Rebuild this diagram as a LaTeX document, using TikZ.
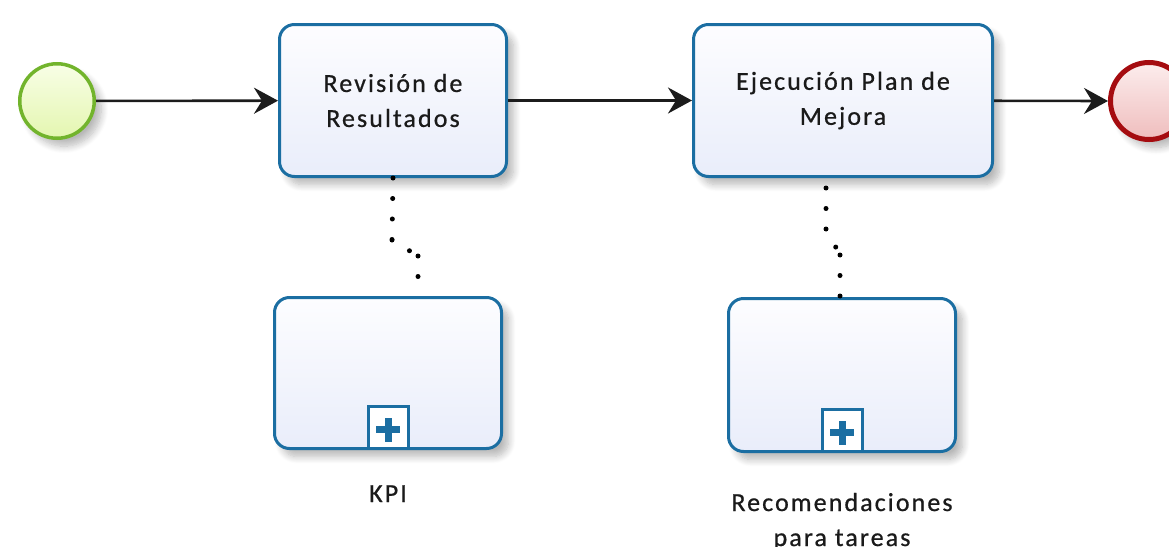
\documentclass[tikz,border=0pt]{standalone}
\usepackage{fontspec}
\setmainfont{Carlito}[LetterSpace=8, FakeBold=0.7]
\usetikzlibrary{arrows.meta,shadows.blur}

\definecolor{taskblue}{HTML}{1B6EA2}
\definecolor{taskfillA}{HTML}{FDFDFF}
\definecolor{taskfillB}{HTML}{E9EDFA}
\definecolor{startgreen}{HTML}{72B42C}
\definecolor{startfillA}{HTML}{F8FEE6}
\definecolor{startfillB}{HTML}{E4F6B0}
\definecolor{endred}{HTML}{A50C10}
\definecolor{endfillA}{HTML}{FCEDED}
\definecolor{endfillB}{HTML}{EFBDBD}
\definecolor{flowline}{HTML}{1C1C1C}
\definecolor{labeltext}{HTML}{1A1A1A}

\tikzset{
  softshadow/.style={blur shadow={shadow xshift=7pt, shadow yshift=-8pt,
      shadow blur radius=7pt, shadow blur steps=10, shadow opacity=28}},
  taskbox/.style={draw=taskblue, line width=3pt, rounded corners=15pt,
      top color=taskfillA, bottom color=taskfillB, softshadow,
      align=center, text=labeltext,
      font=\fontsize{26}{35}\selectfont, inner sep=0pt},
  subbox/.style={taskbox},
  submarker/.style={draw=taskblue, line width=3pt, fill=white,
      minimum width=40pt, minimum height=42pt, inner sep=0pt, anchor=south},
  startev/.style={circle, draw=startgreen, line width=3.5pt,
      top color=startfillA, bottom color=startfillB, softshadow,
      minimum size=74.5pt, inner sep=0pt},
  endev/.style={circle, draw=endred, line width=5pt,
      top color=endfillA, bottom color=endfillB, softshadow,
      minimum size=77pt, inner sep=0pt},
  seqflow/.style={draw=flowline, line width=2.6pt,
      -{Stealth[length=24pt, width=26pt, inset=8pt]}},
  assoc/.style={draw=black, line width=5pt, line cap=round,
      dash pattern=on 0pt off 20.5pt},
  caption/.style={text=labeltext, font=\fontsize{26}{35}\selectfont,
      align=center, anchor=base, inner sep=0pt},
}

\begin{document}
\begin{tikzpicture}[x=1pt, y=-1pt]
  \useasboundingbox (0,0) rectangle (1169,546);

  % events
  \node[startev] (start) at (57,101) {};
  \node[endev]   (end)   at (1149,101) {};

  % tasks
  \node[taskbox, minimum width=227pt, minimum height=152pt] (t1) at (393,100.5)
    {Revisión de\\Resultados};
  \node[taskbox, minimum width=299pt, minimum height=152pt] (t2) at (843,100.5)
    {Ejecución Plan de\\Mejora};

  % collapsed sub-processes
  \node[subbox, minimum width=227pt, minimum height=151pt] (s1) at (388,373) {};
  \node[subbox, minimum width=227pt, minimum height=153pt] (s2) at (842,375) {};

  % collapse markers
  \node[submarker] (m1) at (s1.south) {};
  \node[submarker] (m2) at (s2.south) {};
  \foreach \m in {m1,m2}{
    \fill[taskblue] ([yshift=-2pt]\m.center) +(-12,-3.5) rectangle +(12,3.5);
    \fill[taskblue] ([yshift=-2pt]\m.center) +(-3.5,-12) rectangle +(3.5,12);
  }

  % sub-process names (anchored on the last baseline)
  \node[caption] (k1) at (388,502) {KPI};
  \node[caption] (k2) at (842,546) {Recomendaciones\\para tareas};

  % sequence flows
  \draw[seqflow] (start) -- (t1);
  \draw[seqflow] (t1) -- (t2);
  \draw[seqflow] (t2) -- (end.west);

  % associations: each leg is its own sub-path so the dots restart at the bends
  \coordinate (a1) at (392,240);
  \coordinate (b1) at (418,256);
  \draw[assoc] (t1.south) -- (a1) (a1) -- (b1) (b1) -- (s1.north -| b1);
  \coordinate (a2) at (826,229);
  \coordinate (b2) at (840,255);
  \draw[assoc] ([xshift=-17pt,yshift=-10pt]t2.south) -- (a2) (a2) -- (b2)
    (b2) -- (s2.north -| b2);
\end{tikzpicture}
\end{document}
